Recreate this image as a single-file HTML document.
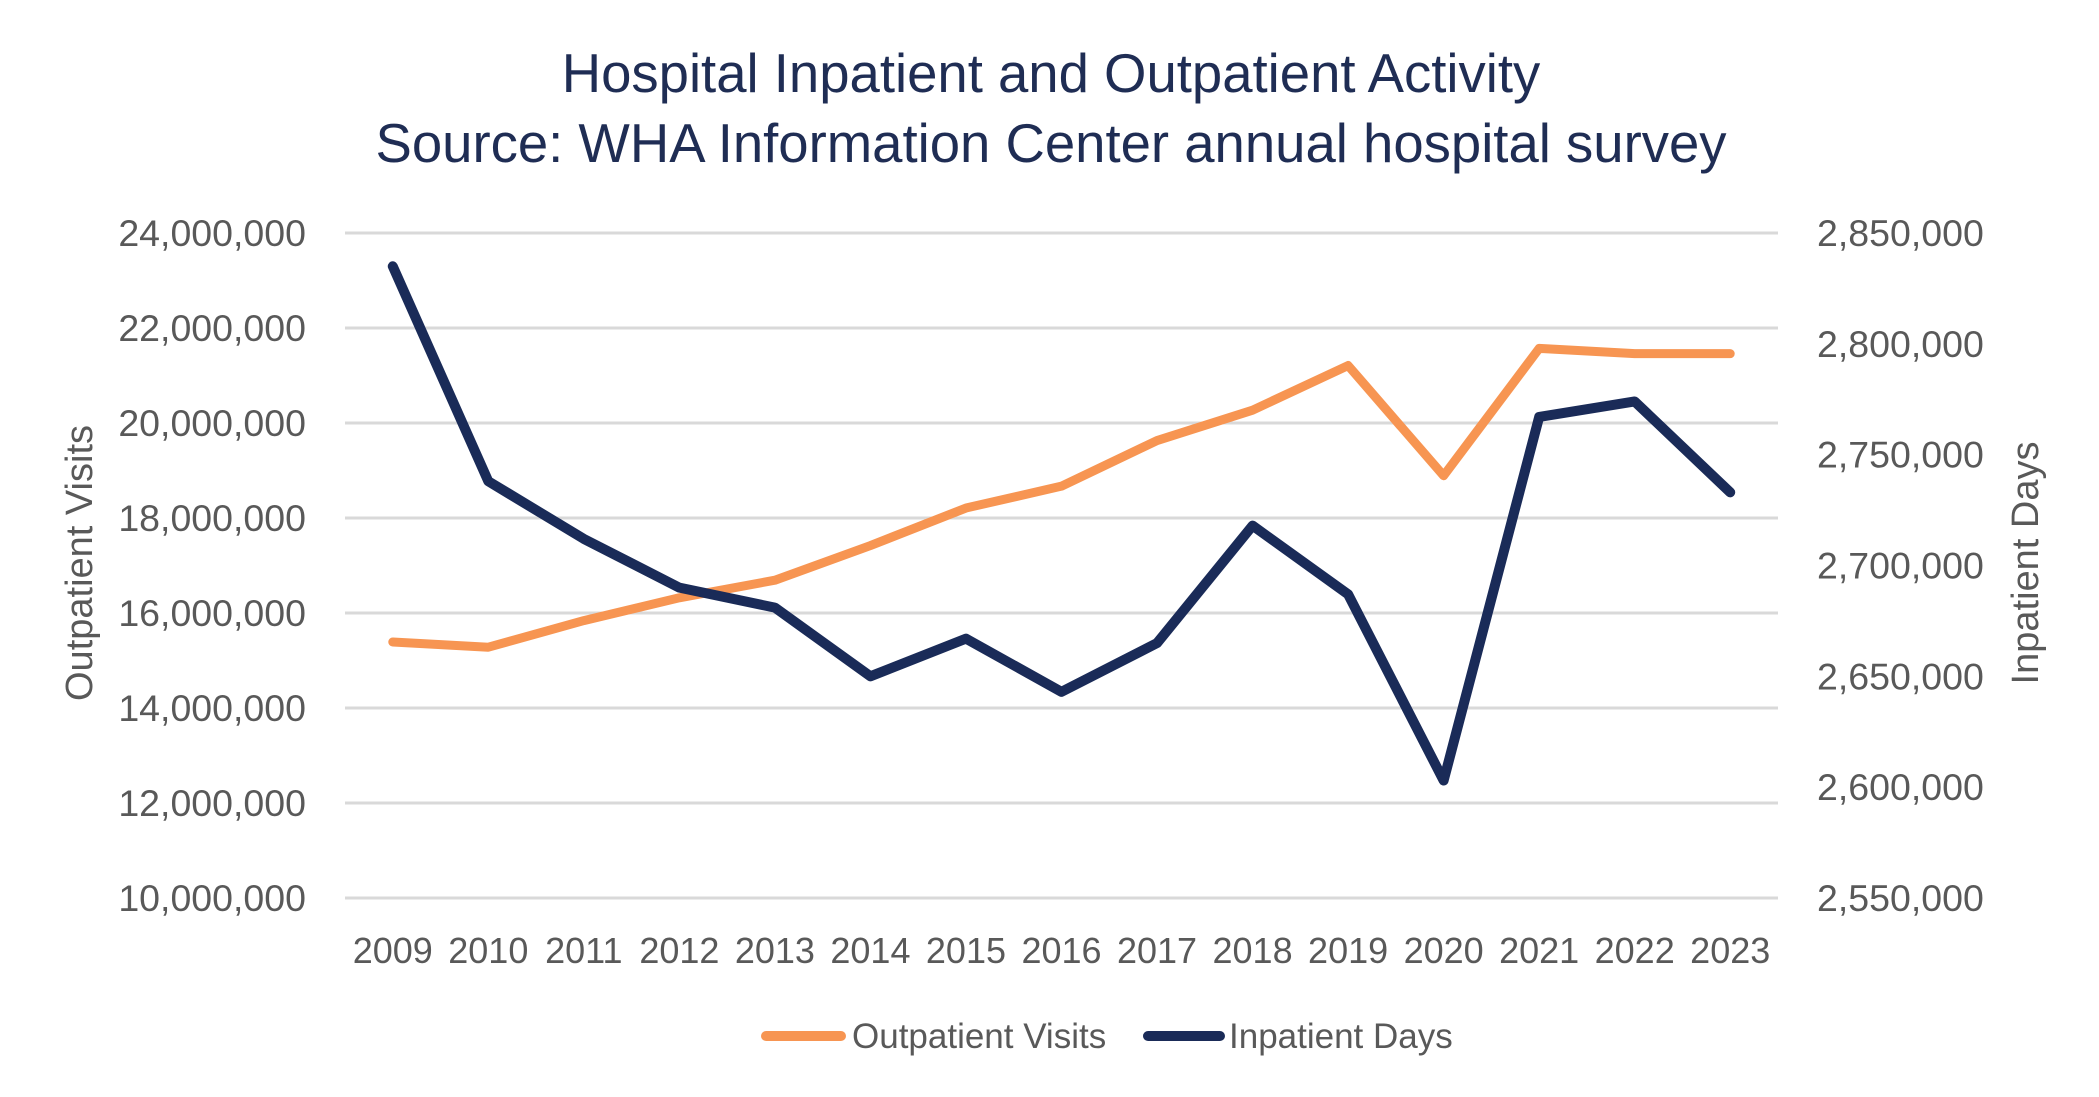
<!DOCTYPE html>
<html><head><meta charset="utf-8"><style>
body{margin:0;background:#fff;}
svg{display:block;font-family:"Liberation Sans",sans-serif;}
</style></head><body>
<svg id="chart" width="2099" height="1097">
<text x="1051" y="92" text-anchor="middle" font-size="54.5" fill="#1f2d54">Hospital Inpatient and Outpatient Activity</text>
<text x="1051" y="162" text-anchor="middle" font-size="54.5" fill="#1f2d54">Source: WHA Information Center annual hospital survey</text>
<g id="grid"></g><g id="lticks"></g><g id="rticks"></g><g id="xticks"></g><g id="series"></g>
<text transform="translate(92,563) rotate(-90)" text-anchor="middle" font-size="38" fill="#595959">Outpatient Visits</text>
<text transform="translate(2038,563) rotate(-90)" text-anchor="middle" font-size="38" fill="#595959">Inpatient Days</text>
<g>
<line x1="766" y1="1036" x2="841" y2="1036" stroke="#f79552" stroke-width="10" stroke-linecap="round"/>
<text x="852" y="1048" font-size="35" fill="#595959">Outpatient Visits</text>
<line x1="1148" y1="1036" x2="1220" y2="1036" stroke="#1a2b58" stroke-width="10" stroke-linecap="round"/>
<text x="1229" y="1048" font-size="35" fill="#595959">Inpatient Days</text>
</g>
</svg>
<script>
const years=[2009,2010,2011,2012,2013,2014,2015,2016,2017,2018,2019,2020,2021,2022,2023];
const outpatient=[15390000,15280000,15840000,16320000,16690000,17420000,18210000,18670000,19630000,20270000,21210000,18890000,21570000,21460000,21460000];
const inpatient=[2835000,2738000,2712000,2690000,2681000,2650000,2667000,2643000,2665000,2718000,2687000,2603000,2767000,2774000,2733000];
const leftTicks=[10000000,12000000,14000000,16000000,18000000,20000000,22000000,24000000];
const rightTicks=[2550000,2600000,2650000,2700000,2750000,2800000,2850000];
const NS="http://www.w3.org/2000/svg";
const x0=345,x1=1778,yTop=233,yBot=898;
const xs=i=>x0+(x1-x0)/years.length*(i+0.5);
const yl=v=>yBot-(v-10000000)/(24000000-10000000)*(yBot-yTop);
const yr=v=>yBot-(v-2550000)/(2850000-2550000)*(yBot-yTop);
const fmt=v=>v.toLocaleString('en-US');
function mk(tag,attrs,parent,text){const e=document.createElementNS(NS,tag);for(const k in attrs)e.setAttribute(k,attrs[k]);if(text!==undefined)e.textContent=text;document.getElementById(parent).appendChild(e);return e;}
leftTicks.forEach(v=>{
 const g=mk('line',{x1:x0,x2:x1,y1:yl(v),y2:yl(v),stroke:'#d9d9d9','stroke-width':3},'grid');
 
 
 const t=mk('text',{x:306,y:yl(v)+13,'text-anchor':'end','font-size':37.5,fill:'#595959'},'lticks',fmt(v));
 
 
});
rightTicks.forEach(v=>{
 const t=mk('text',{x:1817,y:yr(v)+13,'text-anchor':'start','font-size':37.5,fill:'#595959'},'rticks',fmt(v));
 
 
});
years.forEach((y,i)=>{
 const t=mk('text',{x:xs(i),y:963,'text-anchor':'middle','font-size':36,fill:'#595959'},'xticks',String(y));
 
 
});
const p1=mk('polyline',{points:outpatient.map((v,i)=>xs(i)+','+yl(v)).join(' '),fill:'none',stroke:'#f79552','stroke-width':9,'stroke-linejoin':'round','stroke-linecap':'round'},'series');


const p2=mk('polyline',{points:inpatient.map((v,i)=>xs(i)+','+yr(v)).join(' '),fill:'none',stroke:'#1a2b58','stroke-width':10,'stroke-linejoin':'round','stroke-linecap':'round'},'series');


</script>
</body></html>
